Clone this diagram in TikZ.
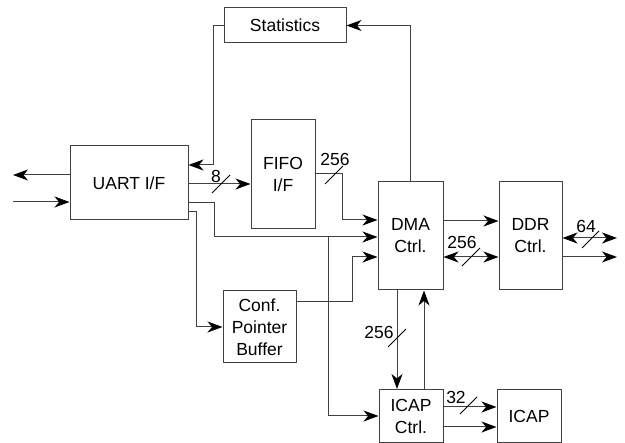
\documentclass[tikz,border=0pt]{standalone}
\usepackage{fontspec}
\setmainfont{Liberation Sans}
\usetikzlibrary{arrows.meta}
\begin{document}
\begin{tikzpicture}[x=1pt,y=-1pt,
  box/.style={draw=black!75,line width=1pt,rectangle,inner sep=0pt,align=center,
    font=\fontsize{17.5}{22}\selectfont},
  conn/.style={draw=black!75,line width=1pt},
  tip/.style={Stealth[length=15pt,width=11pt,inset=4.5pt,black]},
  arr/.style={conn,-{Stealth[length=15pt,width=11pt,inset=4.5pt,black]}},
  darr/.style={conn,{Stealth[length=15pt,width=11pt,inset=4.5pt,black]}-{Stealth[length=15pt,width=11pt,inset=4.5pt,black]}},
  slash/.style={draw=black,line width=1pt},
  lbl/.style={inner sep=0pt,font=\fontsize{17.5}{22}\selectfont}]
\useasboundingbox (0,0) rectangle (625,443);
% boxes
\node[box,minimum width=122pt,minimum height=35pt] (stat) at (285,25.5) {Statistics};
\node[box,minimum width=118pt,minimum height=74pt] (uart) at (129,183) {UART I/F};
\node[box,minimum width=64pt,minimum height=109pt] (fifo) at (283,174.5) {FIFO\\I/F};
\node[box,minimum width=65pt,minimum height=108pt] (dma) at (410.5,236) {DMA\\Ctrl.};
\node[box,minimum width=63pt,minimum height=108pt] (ddr) at (530.5,236) {DDR\\Ctrl.};
\node[box,minimum width=73pt,minimum height=72pt] (conf) at (259.5,327) {Conf.\\Pointer\\Buffer};
\node[box,minimum width=64pt,minimum height=53pt] (icapc) at (411,416) {ICAP\\Ctrl.};
\node[box,minimum width=64pt,minimum height=53pt] (icap) at (529,416) {ICAP};
% free ends
\coordinate (lout) at (13,175);
\coordinate (lin) at (13,202);
\coordinate (rbi) at (617,238);
\coordinate (rout) at (617,257);
\coordinate (br) at (328,237);
% connectors
\draw[arr] (uart.west |- lout) -- (lout);
\draw[arr] (lin) -- (uart.west |- lin);
\draw[arr] (stat.west) -- ++(-10,0) |- (uart.east |- 0,165);
\draw[arr] (uart.east |- 0,184) -- (fifo.west |- 0,184);
\draw[arr] (uart.east |- 0,203) -- (214,203) |- (dma.west |- br);
\draw[arr] (uart.east |- 0,212) -- (196,212) |- (conf.west);
\draw[arr] (br) |- (icapc.west |- 0,416);
\draw[arr] (conf.east |- 0,302) -- (352,302) |- (dma.west |- 0,257);
\draw[arr] (fifo.east |- 0,174) -- (342,174) |- (dma.west |- 0,220);
\draw[arr] (dma.north) |- (stat.east);
\draw[arr] (dma.east |- 0,221) -- (ddr.west |- 0,221);
\draw[darr] (dma.east |- 0,257) -- (ddr.west |- 0,257);
\draw[darr] (ddr.east |- rbi) -- (rbi);
\draw[arr] (ddr.east |- rout) -- (rout);
\draw[arr] (dma.south -| 397,0) -- (icapc.north -| 397,0);
\draw[arr] (icapc.north -| 424,0) -- (dma.south -| 424,0);
\draw[arr] (icapc.east |- 0,407) -- (icap.west |- 0,407);
\draw[arr] (icapc.east |- 0,427) -- (icap.west |- 0,427);
% bus-width slashes and labels
\draw[slash] (212,193) -- (230,175);
\node[lbl] (l8) at (216,176) {8};
\draw[slash] (325,184) -- (343,166);
\node[lbl] (l256a) at (335,159) {256};
\draw[slash] (462,266) -- (480,248);
\node[lbl] (l256b) at (462,242) {256};
\draw[slash] (582,248) -- (599,231);
\node[lbl] (l64) at (586,226) {64};
\draw[slash] (388,347) -- (406,329);
\node[lbl] (l256c) at (379,332) {256};
\draw[slash] (460,414) -- (477,397);
\node[lbl] (l32) at (456,397) {32};
\end{tikzpicture}
\end{document}
